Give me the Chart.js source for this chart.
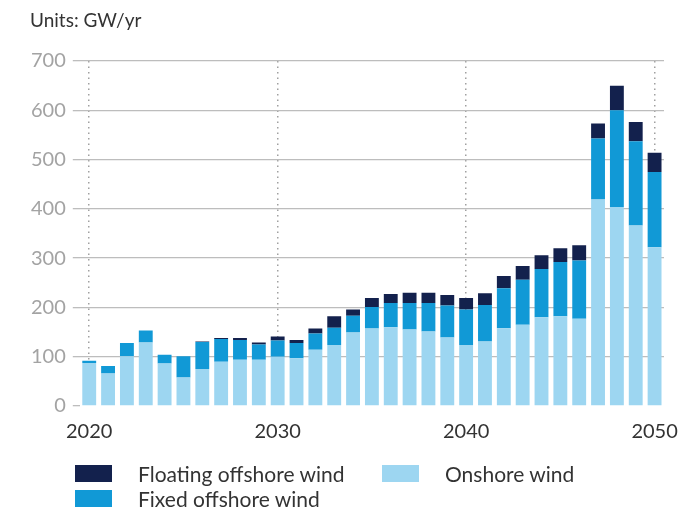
<!DOCTYPE html>
<html>
<head>
<meta charset="utf-8">
<script src="https://cdn.jsdelivr.net/npm/chart.js@4/dist/chart.umd.min.js"></script>
<style>
    body { margin: 0; background: #fff; font-family: Lato, sans-serif; }
    #wrap { position: relative; width: 682px; height: 509px; }
    #units { position: absolute; left: 30px; top: 8px; font-size: 19px; color: #333; }
    .lg { position: absolute; font-size: 21px; color: #333; line-height: 21px; }
    .box { position: absolute; width: 37px; height: 17px; }
</style>
</head>
<body>
<div id="wrap">
    <canvas id="windChart" width="682" height="509"></canvas>
    <div id="units">Units: GW/yr</div>
    <div class="box" style="left:75px;top:465px;background:#13214d"></div>
    <div class="lg" style="left:138px;top:463px">Floating offshore wind</div>
    <div class="box" style="left:382px;top:465px;background:#9dd6f1"></div>
    <div class="lg" style="left:445px;top:463px">Onshore wind</div>
    <div class="box" style="left:75px;top:490px;background:#1199d6"></div>
    <div class="lg" style="left:138px;top:488px">Fixed offshore wind</div>
</div>
<script>
var years = [];
for (var y = 2020; y <= 2050; y++) years.push(String(y));

var onshore = [87, 66, 101, 129, 86, 58, 75, 90, 94, 94,
               100, 97, 114, 124, 149, 157, 160, 155, 151, 139,
               124, 131, 158, 165, 180, 182, 177, 419, 404, 366, 322];
var fixedOffshore = [5, 15, 27, 24, 18, 43, 55, 46, 40, 31,
                     33, 31, 33, 35, 34, 44, 49, 54, 58, 65,
                     72, 74, 81, 91, 98, 110, 118, 124, 196, 171, 153];
var floatingOffshore = [0, 0, 0, 0, 0, 0, 1, 2, 4, 4,
                        8, 6, 10, 23, 13, 18, 18, 21, 21, 21,
                        23, 24, 25, 28, 28, 28, 31, 30, 50, 39, 39];
var yTicks = [0, 100, 200, 300, 400, 500, 600, 700];

var gridGray = '#bdbdbd';

var ctx = document.getElementById('windChart').getContext('2d');
var windChart = new Chart(ctx, {
    type: 'bar',
    data: {
        labels: years,
        datasets: [
            { label: 'Onshore wind', data: onshore, backgroundColor: '#9dd6f1' },
            { label: 'Fixed offshore wind', data: fixedOffshore, backgroundColor: '#1199d6' },
            { label: 'Floating offshore wind', data: floatingOffshore, backgroundColor: '#13214d' }
        ]
    },
    options: {
        responsive: false,
        animation: false,
        layout: { padding: { left: 24, right: 18, top: 61, bottom: 51 } },
        datasets: { bar: { categoryPercentage: 0.8, barPercentage: 0.92 } },
        plugins: {
            legend: { display: false },
            tooltip: { enabled: false }
        },
        scales: {
            x: {
                stacked: true,
                // 2050 etiketi sağ kenara taşabilir, ek boşluk istemiyoruz
                afterFit: function (scale) { scale.paddingRight = 0; },
                grid: {
                    offset: false,
                    drawTicks: false,
                    color: function (c) { return c.index % 10 === 0 ? '#a0a0a0' : 'transparent'; },
                    lineWidth: 1.5
                },
                border: { display: false, dash: [1.5, 4] },
                ticks: {
                    autoSkip: false,
                    maxRotation: 0,
                    padding: 14,
                    color: '#333',
                    font: { family: 'Lato', size: 20 },
                    callback: function (v, i) { return i % 10 === 0 ? years[i] : ''; }
                }
            },
            y: {
                stacked: true,
                min: 0,
                max: 700,
                afterBuildTicks: function (axis) {
                    axis.ticks = yTicks.map(function (v) { return { value: v }; });
                },
                grid: {
                    color: function (c) { return c.tick && c.tick.value === 0 ? 'transparent' : gridGray; },
                    tickColor: gridGray,
                    tickLength: 7,
                    lineWidth: 1.3
                },
                border: { display: false },
                ticks: {
                    padding: 7,
                    color: '#a3a3a3',
                    font: { family: 'Lato', size: 20 }
                }
            }
        }
    }
});
</script>
</body>
</html>
